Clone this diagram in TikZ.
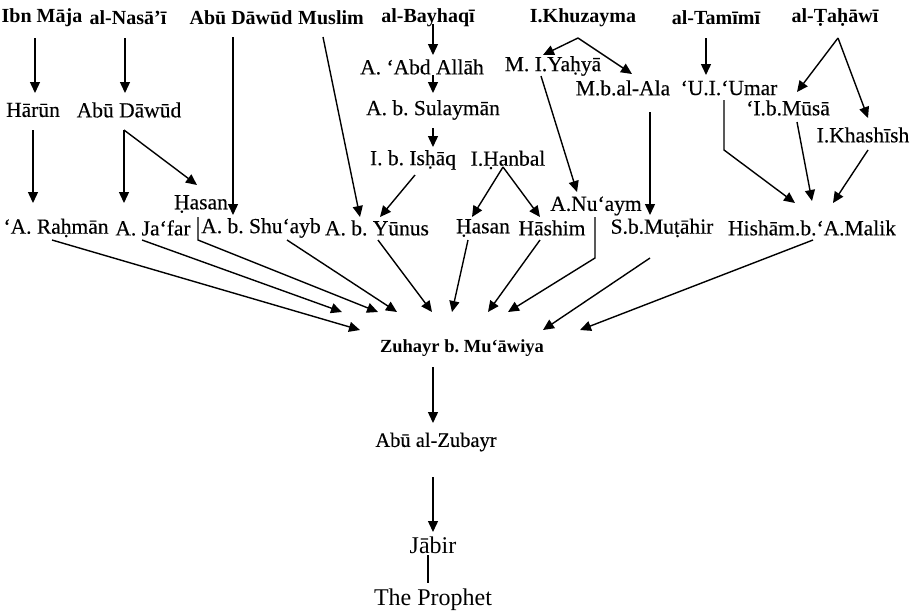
\documentclass[tikz,border=0pt]{standalone}
\usepackage{fontspec}
\setmainfont{Liberation Serif}
\newfontfamily\lblfont{Liberation Serif}[FakeBold=0.3]
\usetikzlibrary{arrows.meta}
\frenchspacing
\begin{document}
\begin{tikzpicture}[x=1pt,y=-1pt,
  lbl/.style={inner sep=0pt, font=\lblfont\fontsize{21.5}{25}\selectfont},
  topname/.style={inner sep=0pt, font=\fontsize{20}{24}\selectfont\bfseries},
  mid/.style={inner sep=0pt, font=\fontsize{18.5}{22}\selectfont\bfseries},
  big/.style={inner sep=0pt, font=\fontsize{24}{28}\selectfont},
  arr/.style={line width=1.4pt, -{Triangle[length=11pt,width=10pt]}},
  ln/.style={line width=1.4pt},
]
\useasboundingbox (0,0) rectangle (922,611);
% top row
\node[topname] (ibn) at (42,18) {Ibn Māja};
\node[topname] (nas) at (128,18) {al-Nasā’ī};
\node[topname] (abd) at (241,18) {Abū Dāwūd};
\node[topname] (mus) at (331,18) {Muslim};
\node[topname] (bay) at (428,18) {al-Bayhaqī};
\node[topname] (khu) at (583,18) {I.Khuzayma};
\node[topname] (tam) at (716,18) {al-Tamīmī};
\node[topname] (tah) at (835,18) {al-Ṭaḥāwī};
% intermediate
\node[lbl] (har) at (33,110) {Hārūn};
\node[lbl] (ad2) at (129,110) {Abū Dāwūd};
\node[lbl] (aba) at (422,67) {A. ‘Abd Allāh};
\node[lbl] (sul) at (433,110) {A. b. Sulaymān};
\node[lbl] (ish) at (413,160) {I. b. Isḥāq};
\node[lbl] (han) at (508,160) {I.Ḥanbal};
\node[lbl] (myh) at (553,66) {M. I.Yaḥyā};
\node[lbl] (mba) at (623,88) {M.b.al-Ala};
\node[lbl] (uum) at (729,88) {‘U.I.‘Umar};
\node[lbl] (imu) at (788,108) {‘I.b.Mūsā};
\node[lbl] (kha) at (863,135) {I.Khashīsh};
\node[lbl] (hsl) at (201,204) {Ḥasan};
\node[lbl] (anu) at (596,206) {A.Nu‘aym};
% row 2
\node[lbl] (rah) at (56,228) {‘A. Raḥmān};
\node[lbl] (jaf) at (153,228) {A. Ja‘far};
\node[lbl] (shu) at (261,228) {A. b. Shu‘ayb};
\node[lbl] (yun) at (377,228) {A. b. Yūnus};
\node[lbl] (hsr) at (483,228) {Ḥasan};
\node[lbl] (has) at (552,228) {Hāshim};
\node[lbl] (mut) at (662,228) {S.b.Muṭāhir};
\node[lbl] (his) at (812,228) {Hishām.b.‘A.Malik};
% bottom chain
\node[mid] (zu) at (462,348) {Zuhayr b. Mu‘āwiya};
\node[lbl, font=\lblfont\fontsize{20.5}{24}\selectfont] (azb) at (436,442) {Abū al-Zubayr};
\node[big] (jab) at (433,545) {Jābir};
\node[big] (pro) at (433,600) {The Prophet};

% connectors, top part
\draw[arr] ([shift={(-7,20)}]ibn.center) -- ([shift={(2,-17)}]har.center);
\draw[arr] ([shift={(-3,20)}]nas.center) -- ([shift={(-4,-17)}]ad2.center);
\draw[arr] ([shift={(-8,19)}]abd.center) -- ([shift={(-28,-13)}]shu.center);
\draw[arr] ([shift={(-8,19)}]mus.center) -- ([shift={(-17,-11)}]yun.center);
\draw[arr] ([shift={(5,6)}]bay.center) -- ([shift={(11,-12)}]aba.center);
\draw[arr] ([shift={(11,8)}]aba.center) -- ([shift={(0,-17)}]sul.center);
\draw[arr] ([shift={(0,18)}]sul.center) -- ([shift={(20,-13)}]ish.center);
\draw[arr] ([shift={(2,15)}]ish.center) -- ([shift={(3,-11)}]yun.center);
\draw[arr] ([shift={(-5,7)}]han.center) -- ([shift={(-11,-11)}]hsr.center);
\draw[arr] ([shift={(-5,7)}]han.center) -- ([shift={(-12,-11)}]has.center);
\draw[arr] ([shift={(-5,20)}]khu.center) -- ([shift={(-10,-11)}]myh.center);
\draw[arr] ([shift={(-5,20)}]khu.center) -- ([shift={(9,-14)}]mba.center);
\draw[arr] ([shift={(-12,10)}]myh.center) -- ([shift={(-19,-14)}]anu.center);
\draw[arr] ([shift={(27,24)}]mba.center) -- ([shift={(-12,-13)}]mut.center);
\draw[arr] ([shift={(-10,20)}]tam.center) -- ([shift={(-23,-13)}]uum.center);
\draw[arr] ([shift={(3,20)}]tah.center) -- ([shift={(9,-16)}]imu.center);
\draw[arr] ([shift={(3,20)}]tah.center) -- ([shift={(5,-17)}]kha.center);
\draw[arr] ([shift={(-5,12)}]uum.center) -- ++(0,50) -- ([shift={(-17,-25)}]his.center);
\draw[arr] ([shift={(9,14)}]imu.center) -- ([shift={(0,-27)}]his.center);
\draw[arr] ([shift={(5,15)}]kha.center) -- ([shift={(21,-25)}]his.center);
\draw[arr] ([shift={(0,20)}]har.center) -- ([shift={(-23,-25)}]rah.center);
\draw[arr] ([shift={(-5,20)}]ad2.center) -- ([shift={(-29,-25)}]jaf.center);
\draw[arr] ([shift={(-5,20)}]ad2.center) -- ([shift={(-4,-19)}]hsl.center);
% connectors into Zuhayr
\draw[arr] ([shift={(-3,13)}]hsl.center) -- ++(0,23) -- ([shift={(-84,-36)}]zu.center);
\draw[arr] ([shift={(-4,12)}]rah.center) -- ([shift={(-102,-18)}]zu.center);
\draw[arr] ([shift={(-11,12)}]jaf.center) -- ([shift={(-120,-36)}]zu.center);
\draw[arr] ([shift={(26,12)}]shu.center) -- ([shift={(-65,-36)}]zu.center);
\draw[arr] ([shift={(1,12)}]yun.center) -- ([shift={(-30,-36)}]zu.center);
\draw[arr] ([shift={(-15,12)}]hsr.center) -- ([shift={(-10,-36)}]zu.center);
\draw[arr] ([shift={(-12,12)}]has.center) -- ([shift={(26,-36)}]zu.center);
\draw[arr] ([shift={(-1,11)}]anu.center) -- ++(0,41) -- ([shift={(46,-36)}]zu.center);
\draw[arr] ([shift={(-12,30)}]mut.center) -- ([shift={(81,-18)}]zu.center);
\draw[arr] ([shift={(1,12)}]his.center) -- ([shift={(118,-18)}]zu.center);
% bottom chain
\draw[arr] ([shift={(-29,19)}]zu.center) -- ([shift={(-3,-19)}]azb.center);
\draw[arr] ([shift={(-3,35)}]azb.center) -- ([shift={(0,-13)}]jab.center);
\draw[ln] ([shift={(-5,10)}]jab.center) -- ([shift={(-5,-17)}]pro.center);
\end{tikzpicture}
\end{document}
